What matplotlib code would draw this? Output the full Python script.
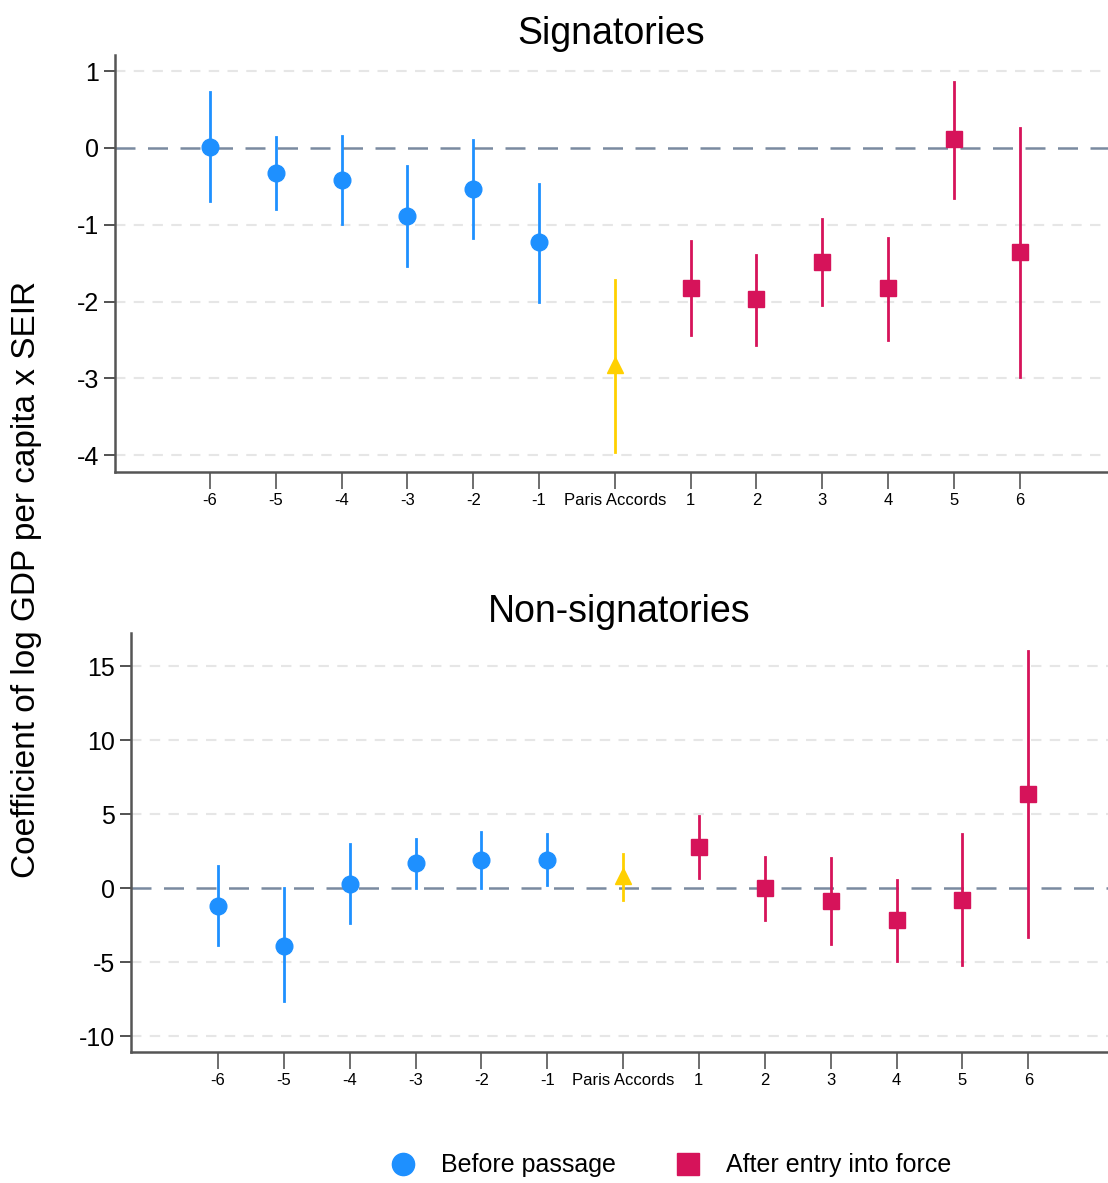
import matplotlib.pyplot as plt

plt.rcParams['font.family'] = ['Liberation Sans', 'DejaVu Sans']
plt.rcParams['axes.unicode_minus'] = False

periods = [-6, -5, -4, -3, -2, -1, 0, 1, 2, 3, 4, 5, 6]
tick_labels = ['-6', '-5', '-4', '-3', '-2', '-1', 'Paris Accords',
               '1', '2', '3', '4', '5', '6']

# Signatories
sig_coef = [0.01, -0.33, -0.42, -0.89, -0.54, -1.23, -2.82,
            -1.83, -1.97, -1.49, -1.83, 0.11, -1.36]
sig_lo = [-0.69, -0.80, -0.99, -1.54, -1.17, -2.01, -3.96,
          -2.44, -2.57, -2.05, -2.50, -0.65, -2.98]
sig_hi = [0.73, 0.14, 0.15, -0.24, 0.10, -0.47, -1.72,
          -1.21, -1.40, -0.93, -1.17, 0.86, 0.26]

# Non-signatories
non_coef = [-1.22, -3.93, 0.27, 1.69, 1.90, 1.90, 0.81,
            2.78, 0.0, -0.88, -2.17, -0.81, 6.37]
non_lo = [-3.86, -7.66, -2.37, 0.0, 0.0, 0.2, -0.81,
          0.68, -2.17, -3.80, -4.95, -5.22, -3.32]
non_hi = [1.49, 0.0, 2.98, 3.32, 3.80, 3.66, 2.30,
          4.88, 2.10, 2.03, 0.54, 3.66, 16.0]

BLUE = '#1E90FF'
RED = '#D6135A'
YELLOW = '#FFD000'
GAP = 0.15  # extra room either side of the Paris Accords period


def xpos(p):
    if p < 0:
        return p - GAP
    if p > 0:
        return p + GAP
    return 0


def group_style(p):
    if p < 0:
        return BLUE, 'o', 12
    if p == 0:
        return YELLOW, '^', 11
    return RED, 's', 12


def panel(ax, coef, lo, hi, title, yticks, ylim, xlim):
    ax.axhline(0, color='#7a8aa0', lw=1.8, ls=(0, (8, 5)), zorder=1)
    for t in yticks:
        if t != 0:
            ax.axhline(t, color='#e6e6e6', lw=1.5, ls=(0, (5, 4)), zorder=0)
    for p, c, l, h in zip(periods, coef, lo, hi):
        col, mk, ms = group_style(p)
        x = xpos(p)
        ax.plot([x, x], [l, h], color=col, lw=2, zorder=2)
        ax.plot(x, c, marker=mk, color=col, ms=ms, ls='none', zorder=3)
    ax.set_xlim(*xlim)
    ax.set_ylim(*ylim)
    ax.set_yticks(yticks)
    ax.set_xticks([xpos(p) for p in periods])
    ax.set_xticklabels(tick_labels, fontsize=12)
    ax.tick_params(axis='y', labelsize=18, length=8, width=1.3, color='#444')
    ax.tick_params(axis='x', length=12, width=1.2, color='#555', pad=3)
    for s in ['top', 'right']:
        ax.spines[s].set_visible(False)
    for s in ['left', 'bottom']:
        ax.spines[s].set_color('#555')
        ax.spines[s].set_linewidth(1.8)
    ax.set_title(title, fontsize=27, pad=8)


fig = plt.figure(figsize=(11.08, 11.83), dpi=100)
ax1 = fig.add_axes([0.1038, 0.601, 0.8962, 0.3525])
ax2 = fig.add_axes([0.1182, 0.1107, 0.8818, 0.3542])

panel(ax1, sig_coef, sig_lo, sig_hi, 'Signatories',
      [1, 0, -1, -2, -3, -4], (-4.22, 1.21), (-7.59, 7.49))
panel(ax2, non_coef, non_lo, non_hi, 'Non-signatories',
      [15, 10, 5, 0, -5, -10], (-11.08, 17.23), (-7.47, 7.36))

fig.text(0.024, 0.51, 'Coefficient of log GDP per capita x SEIR',
         rotation=90, va='center', ha='center', fontsize=24)

h1 = plt.Line2D([], [], marker='o', color=BLUE, ls='none', ms=16)
h2 = plt.Line2D([], [], marker='s', color=RED, ls='none', ms=16)
fig.legend([h1, h2], ['Before passage', 'After entry into force'],
           loc='center', bbox_to_anchor=(0.6, 0.015), ncol=2, frameon=False,
           fontsize=18, columnspacing=1.9, handletextpad=0.5)

fig.savefig('out.png', dpi=100)
